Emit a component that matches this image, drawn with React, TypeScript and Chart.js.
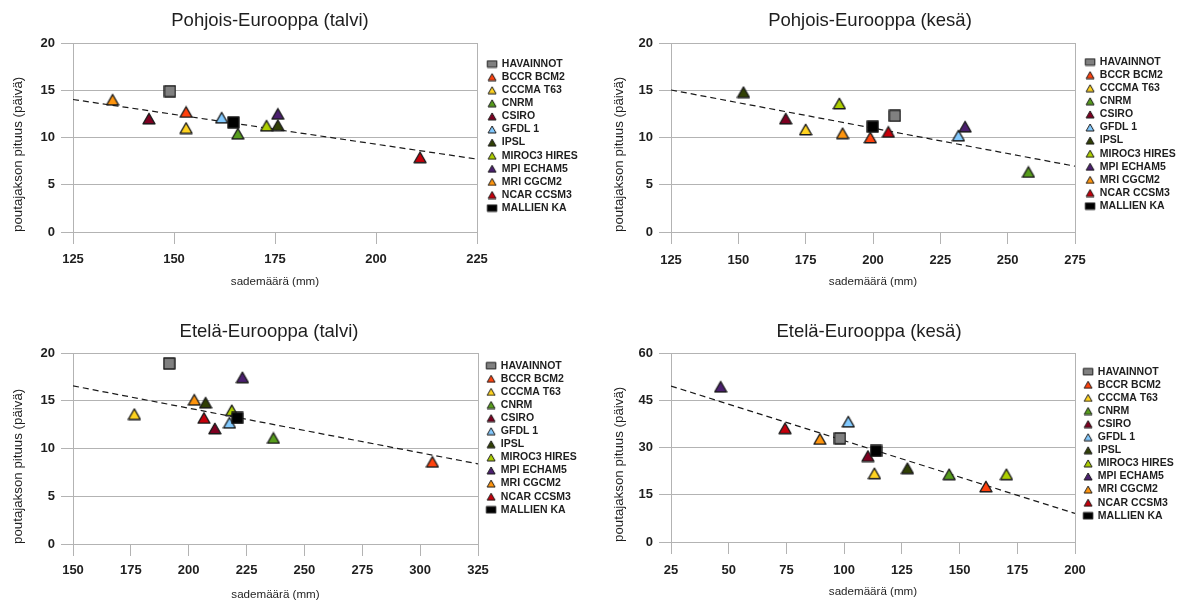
import React, { useEffect, useRef } from 'react';
import { Chart, registerables } from 'chart.js';

Chart.register(...registerables);

const FONT = '"Liberation Sans", Arial, Helvetica, sans-serif';

// ---- series (legend order) ----
const SERIES = ['HAVAINNOT', 'BCCR BCM2', 'CCCMA T63', 'CNRM', 'CSIRO', 'GFDL 1', 'IPSL', 'MIROC3 HIRES', 'MPI ECHAM5', 'MRI CGCM2', 'NCAR CCSM3', 'MALLIEN KA'];
const SERIES_COLORS = ['#808080', '#ff420e', '#ffd320', '#579d1c', '#7e0021', '#83caff', '#314004', '#aecf00', '#4b1f6f', '#ff950e', '#c5000b', '#000000'];
const SERIES_SHAPES = ['square', 'triangle', 'triangle', 'triangle', 'triangle', 'triangle', 'triangle', 'triangle', 'triangle', 'triangle', 'triangle', 'square'];
// models used for the trend line (not observations, not the model mean)
const TREND_SERIES = ['BCCR BCM2', 'CCCMA T63', 'CNRM', 'CSIRO', 'GFDL 1', 'IPSL', 'MIROC3 HIRES', 'MPI ECHAM5', 'MRI CGCM2', 'NCAR CCSM3'];

const TITLES = ['Pohjois-Eurooppa (talvi)', 'Pohjois-Eurooppa (kesä)', 'Etelä-Eurooppa (talvi)', 'Etelä-Eurooppa (kesä)'];
const Y_TITLE = 'poutajakson pituus (päivä)';
const X_TITLE = 'sademäärä (mm)';

// ---- data ----
const NE_WINTER_X = [149, 153, 153, 165.8, 143.8, 161.8, 175.7, 172.9, 175.7, 134.8, 210.9, 164.7];
const NE_WINTER_Y = [14.9, 12.7, 11.0, 10.4, 12.0, 12.1, 11.3, 11.25, 12.5, 14.0, 7.9, 11.6];

const NE_SUMMER_X = [208.1, 199, 175, 257.7, 167.6, 231.7, 151.9, 187.5, 234.2, 188.7, 205.7, 199.9];
const NE_SUMMER_Y = [12.3, 10.0, 10.85, 6.35, 12.0, 10.2, 14.8, 13.6, 11.15, 10.45, 10.6, 11.15];

const SE_WINTER_X = [191.6, 305.3, 176.5, 236.6, 211.3, 217.6, 207.3, 218.6, 223.2, 202.4, 206.6, 221];
const SE_WINTER_Y = [18.9, 8.6, 13.6, 11.1, 12.1, 12.7, 14.8, 14.0, 17.45, 15.1, 13.2, 13.2];

const SE_SUMMER_X = [98.2, 161.4, 113.1, 145.5, 110.3, 101.8, 127.4, 170.3, 46.5, 89.5, 74.4, 113.8];
const SE_SUMMER_Y = [32.9, 17.6, 21.8, 21.5, 27.3, 38.2, 23.4, 21.5, 49.3, 32.7, 36.1, 28.9];

// ---- tick labels ----
const NE_WINTER_X_TICKS = [125, 150, 175, 200, 225];
const NE_SUMMER_X_TICKS = [125, 150, 175, 200, 225, 250, 275];
const SE_WINTER_X_TICKS = [150, 175, 200, 225, 250, 275, 300, 325];
const SE_SUMMER_X_TICKS = [25, 50, 75, 100, 125, 150, 175, 200];
const Y_TICKS_20 = [0, 5, 10, 15, 20];
const Y_TICKS_60 = [0, 15, 30, 45, 60];

// ---- styling / layout (canvas coordinates) ----
const GRID = '#b3b3b3';
const TEXT = '#1e1e1e';
const TICK = 12;
const TITLE_SIZE = 18.5;
const TITLE_LH = TITLE_SIZE * 1.2;
const AX_SIZE = 11.6;
const AX_LH = AX_SIZE * 1.2;
const AXY_SIZE = 13.3;
const AXY_LH = AXY_SIZE * 1.2;
const TICK_SIZE = 13;
const TICK_LH = TICK_SIZE * 1.2;
const LEG_SIZE = 10.5;
const LEG_PAD = 2.6;
const LEG_BOX_W = 9;

type Layout = {
  left: number; top: number; W: number; H: number;
  l: number; r: number; t: number; b: number;
  titleX: number; titleY: number; yTitleX: number;
  xLabelY: number; xTitleY: number; legendY: number; y2w: number; yTickPad: number;
};

const PANELS = [
  { title: TITLES[0], xs: NE_WINTER_X, ys: NE_WINTER_Y, xTicks: NE_WINTER_X_TICKS, yTicks: Y_TICKS_20,
    layout: { left: 0, top: 0, W: 600, H: 300, l: 73, r: 477, t: 43, b: 232, titleX: 270, titleY: 20.8, yTitleX: 18.5, xLabelY: 259.5, xTitleY: 282, legendY: 64, y2w: 8, yTickPad: 6 } },
  { title: TITLES[1], xs: NE_SUMMER_X, ys: NE_SUMMER_Y, xTicks: NE_SUMMER_X_TICKS, yTicks: Y_TICKS_20,
    layout: { left: 600, top: 0, W: 590, H: 300, l: 71, r: 475, t: 43, b: 232, titleX: 270, titleY: 20.8, yTitleX: 19, xLabelY: 260, xTitleY: 281.3, legendY: 62, y2w: 8, yTickPad: 6 } },
  { title: TITLES[2], xs: SE_WINTER_X, ys: SE_WINTER_Y, xTicks: SE_WINTER_X_TICKS, yTicks: Y_TICKS_20,
    layout: { left: 0, top: 300, W: 600, H: 304, l: 73, r: 478, t: 53, b: 244, titleX: 269, titleY: 31.7, yTitleX: 18.5, xLabelY: 270, xTitleY: 295, legendY: 65.7, y2w: 6, yTickPad: 6 } },
  { title: TITLES[3], xs: SE_SUMMER_X, ys: SE_SUMMER_Y, xTicks: SE_SUMMER_X_TICKS, yTicks: Y_TICKS_60,
    layout: { left: 600, top: 300, W: 590, H: 304, l: 71, r: 475, t: 53, b: 242, titleX: 269, titleY: 31.7, yTitleX: 19, xLabelY: 270, xTitleY: 291.3, legendY: 71.7, y2w: 6, yTickPad: 6 } },
];

function makeMarker(shape: string, color: string, w: number, h: number, lw: number) {
  const c = document.createElement('canvas');
  const pad = 1;
  c.width = Math.ceil(w + 2 * pad);
  c.height = Math.ceil(h + 2 * pad);
  const ctx = c.getContext('2d')!;
  const ox = (c.width - w) / 2;
  const oy = (c.height - h) / 2;
  ctx.beginPath();
  if (shape === 'triangle') {
    ctx.moveTo(ox, oy + h);
    ctx.lineTo(ox + w, oy + h);
    ctx.lineTo(ox + w / 2, oy);
    ctx.closePath();
  } else {
    ctx.rect(ox, oy, w, h);
  }
  ctx.fillStyle = color;
  ctx.fill();
  ctx.lineWidth = lw;
  ctx.lineJoin = 'round';
  ctx.strokeStyle = '#1a1a1a';
  ctx.stroke();
  return c;
}

function regression(xs: number[], ys: number[]) {
  const idx = TREND_SERIES.map((n) => SERIES.indexOf(n));
  const n = idx.length;
  const mx = idx.reduce((s, i) => s + xs[i], 0) / n;
  const my = idx.reduce((s, i) => s + ys[i], 0) / n;
  let sxy = 0;
  let sxx = 0;
  idx.forEach((i) => {
    sxy += (xs[i] - mx) * (ys[i] - my);
    sxx += (xs[i] - mx) * (xs[i] - mx);
  });
  const slope = sxy / sxx;
  return (x: number) => my + slope * (x - mx);
}

function legendWidth() {
  const c = document.createElement('canvas');
  const ctx = c.getContext('2d')!;
  ctx.font = `normal bold ${LEG_SIZE}px ${FONT}`;
  const maxText = Math.max(...SERIES.map((s) => ctx.measureText(s).width));
  return LEG_PAD + LEG_BOX_W + LEG_SIZE / 2 + maxText + 10;
}

function buildConfig(p: typeof PANELS[number]): any {
  const lay = p.layout as Layout;
  const L = legendWidth();
  const tPadTop = lay.titleY - TITLE_LH / 2;
  const tPadBottom = lay.t - tPadTop - TITLE_LH;
  // title is centred on [padLeft, W - padRight]; right side = r + y2w + L
  const pl = 2 * lay.titleX - lay.r - lay.y2w - L;
  const pr = lay.W - lay.r - lay.y2w - L;
  const yW = lay.l - pl;
  const yTitlePad = lay.yTitleX - pl - AXY_LH / 2;
  const xH = lay.xTitleY + AX_LH / 2 - lay.b;
  const pb = lay.H - lay.b - xH;
  const xTickPad = lay.xLabelY - lay.b - TICK - TICK_LH / 2;
  const legTitlePad = lay.legendY - lay.t - 1 - LEG_PAD - LEG_SIZE / 2;

  const bigMarkers = SERIES.map((_, i) =>
    SERIES_SHAPES[i] === 'triangle'
      ? makeMarker('triangle', SERIES_COLORS[i], 12, 10.5, 1.4)
      : makeMarker('square', SERIES_COLORS[i], 11, 11, 1.4));
  const smallMarkers = SERIES.map((_, i) =>
    SERIES_SHAPES[i] === 'triangle'
      ? makeMarker('triangle', SERIES_COLORS[i], 8, 7, 1)
      : makeMarker('square', SERIES_COLORS[i], 9.5, 6.5, 1));

  const xMin = p.xTicks[0];
  const xMax = p.xTicks[p.xTicks.length - 1];
  const yMin = p.yTicks[0];
  const yMax = p.yTicks[p.yTicks.length - 1];
  const fit = regression(p.xs, p.ys);

  const datasets: any[] = SERIES.map((name, i) => ({
    label: name,
    data: [{ x: p.xs[i], y: p.ys[i] }],
    pointStyle: bigMarkers[i],
    pointRadius: 7,
    pointHoverRadius: 7,
    backgroundColor: SERIES_COLORS[i],
    borderColor: '#1a1a1a',
    borderWidth: 1,
    order: -i,
  }));
  datasets.push({
    label: 'trend',
    data: [{ x: xMin, y: fit(xMin) }, { x: xMax, y: fit(xMax) }],
    showLine: true,
    borderColor: '#1a1a1a',
    borderWidth: 1.2,
    borderDash: [6, 4],
    pointRadius: 0,
    pointHoverRadius: 0,
    fill: false,
    order: 100,
  });

  return {
    type: 'scatter',
    data: { datasets },
    options: {
      animation: false,
      responsive: false,
      devicePixelRatio: 1,
      events: [],
      layout: { padding: { left: pl, right: pr, top: 0, bottom: pb } },
      font: { family: FONT },
      scales: {
        x: {
          type: 'linear',
          min: xMin,
          max: xMax,
          afterBuildTicks: (s: any) => { s.ticks = p.xTicks.map((v) => ({ value: v })); },
          afterFit: (s: any) => { s.height = xH; },
          grid: { display: true, drawOnChartArea: false, drawTicks: true, tickLength: TICK, color: GRID, tickColor: GRID, lineWidth: 1 },
          border: { display: false },
          ticks: { padding: xTickPad, color: TEXT, font: { family: FONT, size: TICK_SIZE, weight: 'bold' }, maxRotation: 0, autoSkip: false },
          title: { display: true, text: X_TITLE, color: TEXT, font: { family: FONT, size: AX_SIZE }, padding: { top: 0, bottom: 0 } },
        },
        y: {
          type: 'linear',
          position: 'left',
          min: yMin,
          max: yMax,
          afterBuildTicks: (s: any) => { s.ticks = p.yTicks.map((v) => ({ value: v })); },
          afterFit: (s: any) => { s.width = yW; },
          grid: { display: true, drawOnChartArea: true, drawTicks: true, tickLength: TICK, color: GRID, tickColor: GRID, lineWidth: 1 },
          border: { display: true, color: GRID, width: 1 },
          ticks: { padding: lay.yTickPad, color: TEXT, font: { family: FONT, size: TICK_SIZE, weight: 'bold' }, autoSkip: false },
          title: { display: true, text: Y_TITLE, align: 'start', color: TEXT, font: { family: FONT, size: AXY_SIZE }, padding: { top: yTitlePad, bottom: 0 } },
        },
        y2: {
          type: 'linear',
          position: 'right',
          display: true,
          afterFit: (s: any) => { s.width = lay.y2w; },
          grid: { display: true, drawOnChartArea: false, drawTicks: false, color: 'rgba(0,0,0,0)' },
          border: { display: true, color: GRID, width: 1 },
          ticks: { display: false },
        },
      },
      plugins: {
        tooltip: { enabled: false },
        title: {
          display: true,
          text: p.title,
          color: TEXT,
          font: { family: FONT, size: TITLE_SIZE, weight: 'normal', lineHeight: 1.2 },
          padding: { top: tPadTop, bottom: tPadBottom },
        },
        legend: {
          display: true,
          position: 'right',
          align: 'start',
          fullSize: false,
          maxWidth: 400,
          title: { display: true, text: '', font: { size: 1, lineHeight: 1 }, padding: { top: legTitlePad, bottom: 0 } },
          labels: {
            usePointStyle: true,
            boxWidth: LEG_BOX_W,
            boxHeight: 7,
            padding: LEG_PAD,
            color: TEXT,
            font: { family: FONT, size: LEG_SIZE, weight: 'bold', lineHeight: 1 },
            filter: (item: any) => item.datasetIndex < SERIES.length,
            sort: (a: any, b: any) => a.datasetIndex - b.datasetIndex,
            generateLabels: (chart: any) => {
              const items = (Chart.defaults.plugins.legend.labels.generateLabels as any)(chart);
              return items.map((it: any) => ({
                ...it,
                pointStyle: it.datasetIndex < SERIES.length ? smallMarkers[it.datasetIndex] : it.pointStyle,
              }));
            },
          },
        },
      },
    },
  };
}

function Panel({ panel }: { panel: typeof PANELS[number] }) {
  const ref = useRef<HTMLCanvasElement>(null);
  useEffect(() => {
    const canvas = ref.current;
    if (!canvas) return;
    const chart = new Chart(canvas, buildConfig(panel));
    return () => chart.destroy();
  }, [panel]);
  const lay = panel.layout;
  return (
    <canvas
      ref={ref}
      width={lay.W}
      height={lay.H}
      style={{ position: 'absolute', left: lay.left, top: lay.top, width: lay.W, height: lay.H }}
    />
  );
}

export default function App() {
  return (
    <div style={{ position: 'fixed', left: 0, top: 0, width: 1182, height: 604, background: '#ffffff', overflow: 'hidden' }}>
      {PANELS.map((p) => (
        <Panel key={p.title} panel={p} />
      ))}
    </div>
  );
}
